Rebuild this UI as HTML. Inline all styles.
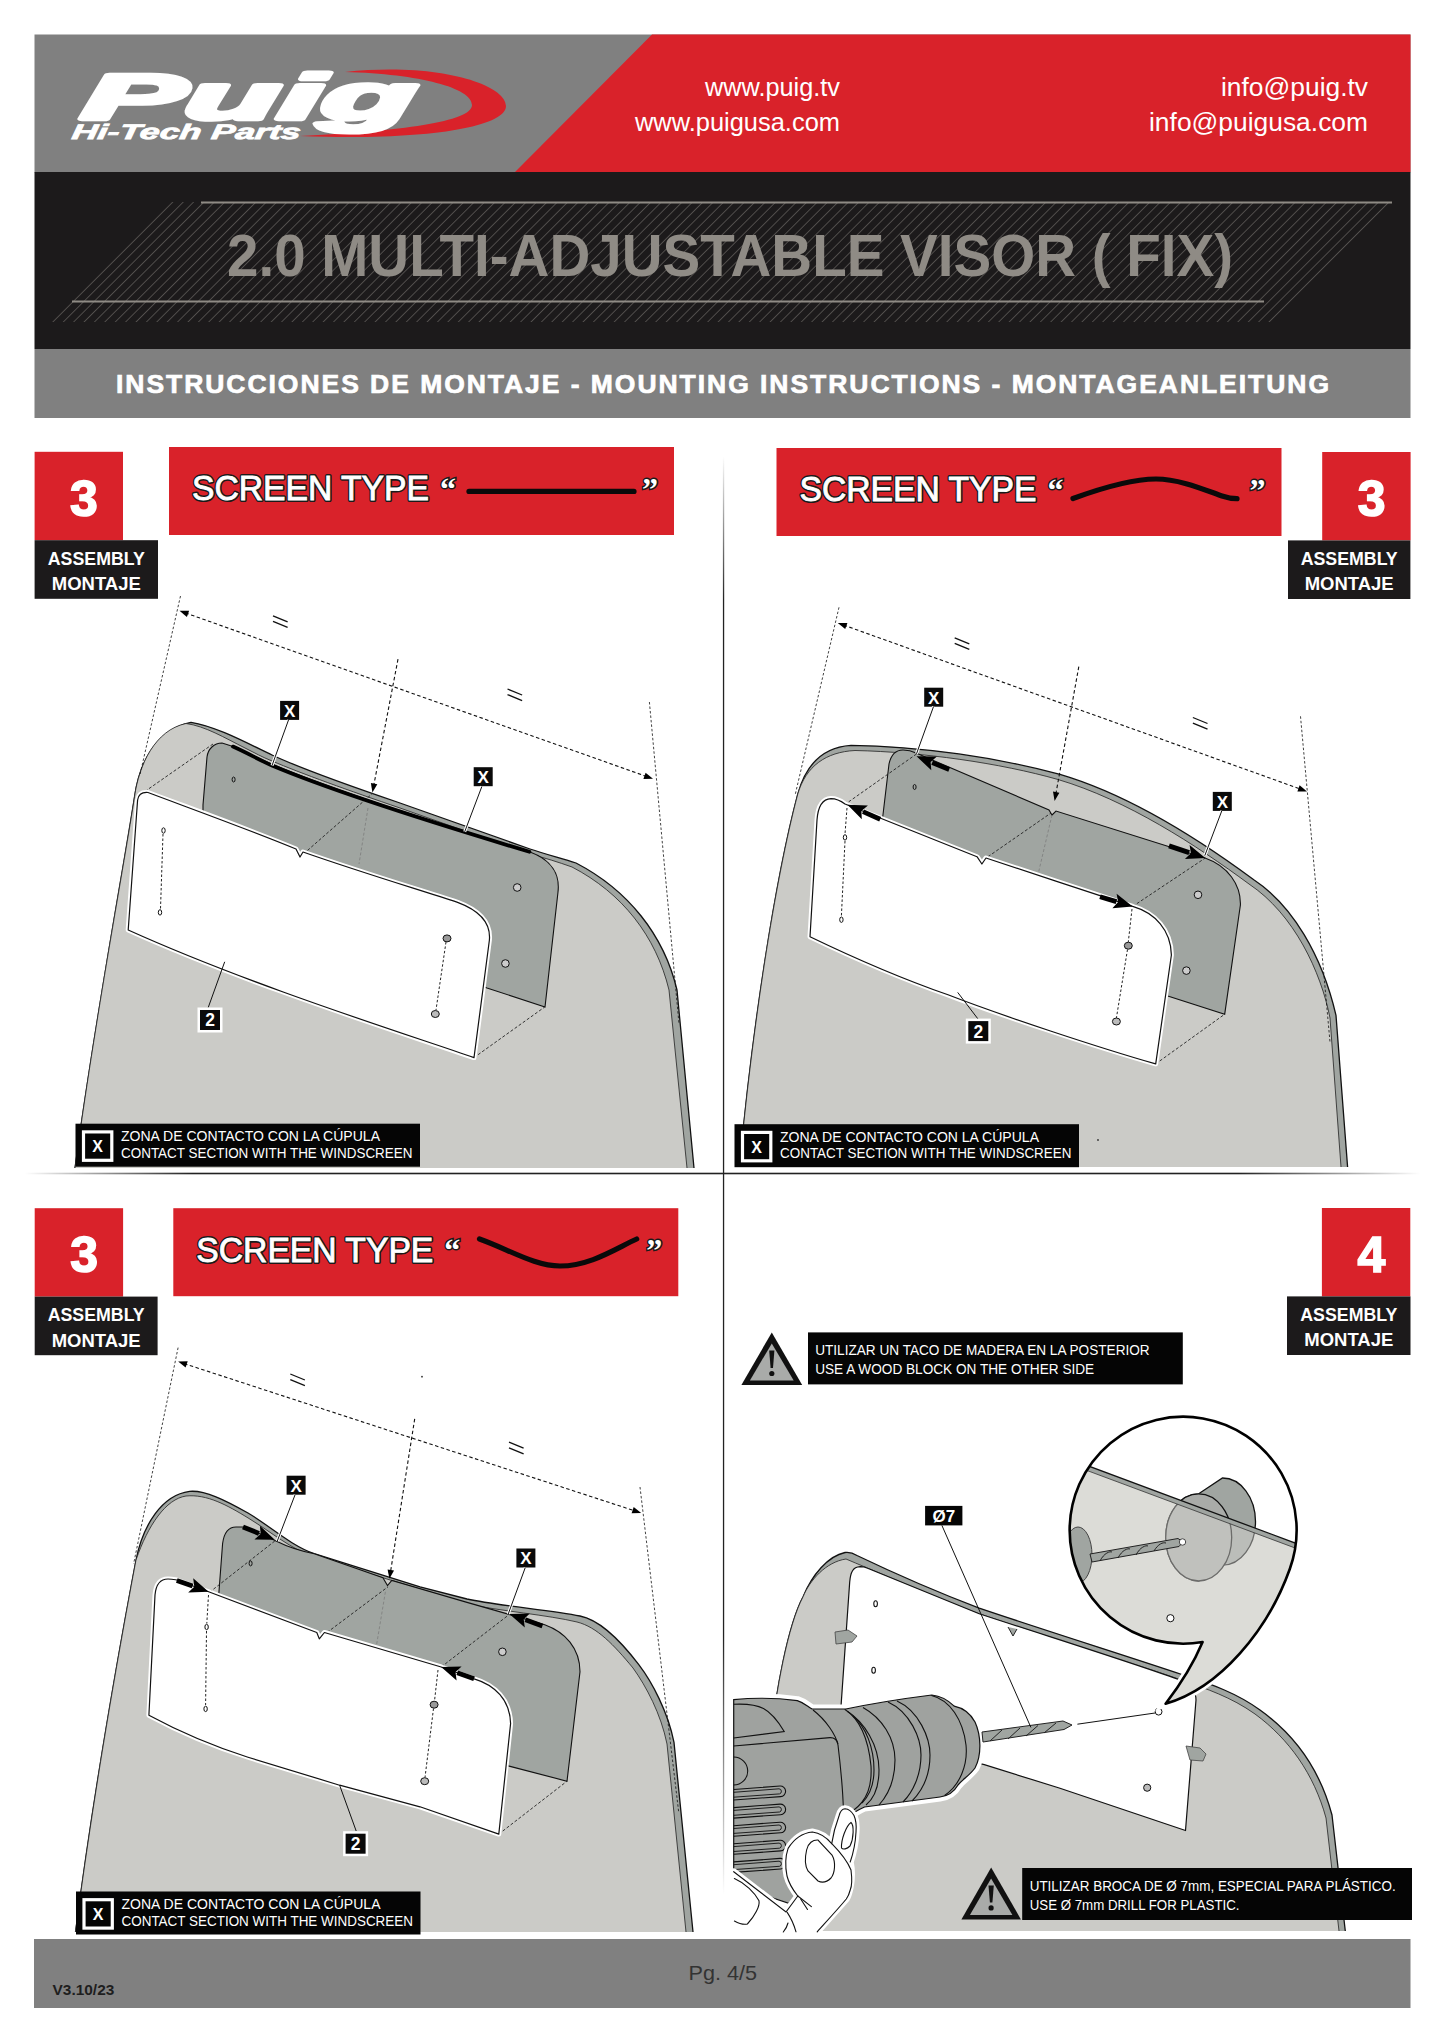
<!DOCTYPE html>
<html><head><meta charset="utf-8">
<style>
html,body{margin:0;padding:0;background:#fff;}
body{width:1445px;height:2044px;overflow:hidden;position:relative;font-family:"Liberation Sans",sans-serif;}
svg{position:absolute;left:0;top:0;}
text{font-family:"Liberation Sans",sans-serif;}
text.serif{font-family:"Liberation Serif",serif;}
</style></head>
<body>
<svg width="1445" height="2044" viewBox="0 0 1445 2044">
<defs>
  <pattern id="hatch" patternUnits="userSpaceOnUse" width="7.35" height="7.35" patternTransform="rotate(45)">
    <rect width="7.35" height="7.35" fill="#1c1a1b"/>
    <line x1="0" y1="0" x2="0" y2="7.35" stroke="#6e6b68" stroke-width="1.2"/>
  </pattern>
</defs>

<rect x="34.5" y="34.5" width="1376" height="138" fill="#808080"/>
<polygon points="652,34.5 1410.5,34.5 1410.5,172 515,172" fill="#d9222a"/>
<rect x="34.5" y="172" width="1376" height="177" fill="#1c1a1b"/>
<polygon points="170,202 1392,202 1274,322 51,322" fill="url(#hatch)"/>
<line x1="201" y1="202.5" x2="1392" y2="202.5" stroke="#8f8b85" stroke-width="2"/>
<line x1="72" y1="301.5" x2="1264" y2="301.5" stroke="#8f8b85" stroke-width="2"/>
<text x="227" y="276" font-size="59" font-weight="700" fill="#8f8b85" textLength="1006" lengthAdjust="spacingAndGlyphs">2.0 MULTI-ADJUSTABLE VISOR ( FIX)</text>
<rect x="34.5" y="349" width="1376" height="69" fill="#808080"/>
<text x="116" y="393" font-size="26.5" font-weight="700" fill="#fff" stroke="#fff" stroke-width="0.7" textLength="1213" lengthAdjust="spacing">INSTRUCCIONES DE MONTAJE - MOUNTING INSTRUCTIONS - MONTAGEANLEITUNG</text>
<path d="M345 72 C440 62 506 85 506 106 C506 128 420 141 300 136 C400 131 472 122 472 105 C472 88 420 74 345 72 Z" fill="#d9222a"/>
<text x="0" y="0" font-size="64" font-weight="700" font-style="italic" fill="#fff" stroke="#fff" stroke-width="4.5" stroke-linejoin="round" transform="translate(80 119) skewX(-8)" textLength="333" lengthAdjust="spacingAndGlyphs">Puig</text>
<text x="0" y="0" font-size="21" font-weight="700" font-style="italic" fill="#fff" stroke="#fff" stroke-width="0.8" transform="translate(71 139) skewX(-8)" textLength="229" lengthAdjust="spacingAndGlyphs">Hi-Tech Parts</text>
<text x="840" y="96" font-size="25" fill="#fff" text-anchor="end" textLength="135" lengthAdjust="spacingAndGlyphs">www.puig.tv</text>
<text x="840" y="131" font-size="25" fill="#fff" text-anchor="end" textLength="205" lengthAdjust="spacingAndGlyphs">www.puigusa.com</text>
<text x="1368" y="96" font-size="25" fill="#fff" text-anchor="end" textLength="147" lengthAdjust="spacingAndGlyphs">info@puig.tv</text>
<text x="1368" y="131" font-size="25" fill="#fff" text-anchor="end" textLength="219" lengthAdjust="spacingAndGlyphs">info@puigusa.com</text>
<defs>
<linearGradient id="vg" gradientUnits="userSpaceOnUse" x1="0" y1="456" x2="0" y2="1895">
<stop offset="0" stop-color="#222" stop-opacity="0"/><stop offset="0.1" stop-color="#222" stop-opacity="1"/><stop offset="0.82" stop-color="#222" stop-opacity="1"/><stop offset="1" stop-color="#222" stop-opacity="0"/></linearGradient>
<linearGradient id="hg" gradientUnits="userSpaceOnUse" x1="25" y1="0" x2="1420" y2="0">
<stop offset="0" stop-color="#222" stop-opacity="0"/><stop offset="0.12" stop-color="#222" stop-opacity="1"/><stop offset="0.87" stop-color="#222" stop-opacity="1"/><stop offset="1" stop-color="#222" stop-opacity="0"/></linearGradient>
</defs>
<rect x="722.9" y="456" width="1.3" height="1439" fill="url(#vg)"/>
<rect x="25" y="1172.7" width="1395" height="1.6" fill="url(#hg)"/>
<rect x="34" y="1939" width="1376.5" height="69" fill="#808080"/>
<text x="688.5" y="1980" font-size="21" fill="#333" textLength="68.5" lengthAdjust="spacingAndGlyphs">Pg. 4/5</text>
<text x="52.6" y="1994.5" font-size="14.5" font-weight="700" fill="#1e1e1e" textLength="61.7" lengthAdjust="spacingAndGlyphs">V3.10/23</text>
<g id="q1"><rect x="34.6" y="451.8" width="88.4" height="88.4" fill="#d9222a"/><rect x="34.6" y="540.2" width="123.4" height="58.6" fill="#1c1a1b"/><text x="84.0" y="516.0" font-size="50" font-weight="700" fill="#fff" stroke="#fff" stroke-width="1.6" text-anchor="middle">3</text><text x="96.3" y="565.0" font-size="18" font-weight="700" fill="#fff" text-anchor="middle" textLength="97" lengthAdjust="spacingAndGlyphs">ASSEMBLY</text><text x="96.3" y="590.2" font-size="18" font-weight="700" fill="#fff" text-anchor="middle" textLength="89" lengthAdjust="spacingAndGlyphs">MONTAJE</text><rect x="169" y="447" width="505" height="88" fill="#d9222a"/><text x="192" y="500.3" font-size="35" fill="#1a1a1a" stroke="#1a1a1a" stroke-width="4" stroke-linejoin="round" textLength="237" lengthAdjust="spacingAndGlyphs">SCREEN TYPE</text><text x="192" y="500.3" font-size="35" fill="#fff" stroke="#fff" stroke-width="0.9" textLength="237" lengthAdjust="spacingAndGlyphs">SCREEN TYPE</text><text x="440" y="500" font-size="32" font-weight="700" class="serif" fill="#fff" stroke="#1a1a1a" stroke-width="3" paint-order="stroke">“</text><text x="642" y="500" font-size="32" font-weight="700" class="serif" fill="#fff" stroke="#1a1a1a" stroke-width="3" paint-order="stroke">”</text><path d="M469 491.4 L634 491.4" fill="none" stroke="#0a0a0a" stroke-width="5.2" stroke-linecap="round"/><path d="M75 1168 C95 1020 125 860 134.6 796.3 C139 765 155 730 191 722.3 C215 726 245 742 272 755 C300 768 350 786 400 803 L530 849 C545 854 560 858 576 863 C628 890 664 935 677 990 L694 1168 Z" fill="#a0a5a1" stroke="none"/><path d="M75 1168 C95 1020 125 860 134.6 796.3 C139 765 155 730 191 722.3 C215 726 245 742 272 755 C300 768 350 786 400 803 L530 849 C545 854 560 858 576 863 C628 890 664 935 677 990 L694 1168" fill="none" stroke="#111" stroke-width="1.3"/><path d="M75 1168 C95 1020 125 860 134.6 796.3 C139 765 155 730 186 723.5 C205 726 225 738 245 748 C255 753 262 757 272 761 C300 773 350 791 400 808 L530 854 C545 858 558 862 572 867 C622 893 656 936 669 990 L687 1168 Z" fill="#cbcbc7" stroke="none"/><path d="M75 1168 C95 1020 125 860 134.6 796.3 C139 765 155 730 186 723.5 C205 726 225 738 245 748 C255 753 262 757 272 761 C300 773 350 791 400 808 L530 854 C545 858 558 862 572 867 C622 893 656 936 669 990 L687 1168" fill="none" stroke="#222" stroke-width="0.8"/><path d="M203 805 L207 757 C208 749 214 743 222 743 C240 748 255 757 272 764 C320 785 420 818 530 852 C552 860 560 875 558 892 L545 1007 L487 988 L380 950 L203 870 Z" fill="#a0a5a1" stroke="#111" stroke-width="1.1"/><path d="M213.0 744.0 L147.0 790.0" fill="none" stroke="#222" stroke-width="0.9" stroke-dasharray="3 2"/><path d="M300.0 857.0 L373.0 793.0" fill="none" stroke="#222" stroke-width="0.9" stroke-dasharray="3 2"/><path d="M474.0 1057.6 L544.7 1007.0" fill="none" stroke="#222" stroke-width="0.9" stroke-dasharray="3 2"/><path d="M368.0 808.0 L359.0 864.0" fill="none" stroke="#777" stroke-width="0.7" stroke-dasharray="3 2"/><path d="M128.2 930 L137.6 800 C138.5 794 142 792 148 792.5 C200 812 250 830 296 849 L300 857 L303 852 C360 872 420 890 457.6 902.4 C478 910 491 922 489.4 940 L474 1057.6 C400 1032 250 985 128.2 930 Z" fill="#fff" stroke="#fff" stroke-width="5" stroke-linejoin="round"/><path d="M128.2 930 L137.6 800 C138.5 794 142 792 148 792.5 C200 812 250 830 296 849 L300 857 L303 852 C360 872 420 890 457.6 902.4 C478 910 491 922 489.4 940 L474 1057.6 C400 1032 250 985 128.2 930 Z" fill="#fff" stroke="#111" stroke-width="1.2" stroke-linejoin="round"/><path d="M233 746.6 C245 752 258 759 272 765.6 C330 790 430 822 529.4 851.8" fill="none" stroke="#000" stroke-width="3.8" stroke-linecap="round"/><ellipse cx="163.5" cy="830.5" rx="1.7" ry="2.7" fill="#fff" stroke="#111" stroke-width="1"/><ellipse cx="160" cy="912.4" rx="1.7" ry="2.7" fill="#fff" stroke="#111" stroke-width="1"/><ellipse cx="447" cy="938.4" rx="4" ry="3.5" fill="#999" stroke="#111" stroke-width="1"/><ellipse cx="435.3" cy="1014" rx="4" ry="3.5" fill="#bbb" stroke="#111" stroke-width="1"/><ellipse cx="233.6" cy="779.5" rx="1.5" ry="2.5" fill="none" stroke="#111"/><circle cx="517.2" cy="887.5" r="3.8" fill="#ccc" stroke="#111"/><circle cx="505.4" cy="963.5" r="3.8" fill="#ccc" stroke="#111"/><path d="M163.0 834.0 L160.5 909.0" fill="none" stroke="#222" stroke-width="1" stroke-dasharray="2.5 2"/><path d="M446.0 942.0 L436.0 1010.0" fill="none" stroke="#222" stroke-width="1" stroke-dasharray="2.5 2"/><path d="M185.4 612.9 L647.1 776.7" fill="none" stroke="#111" stroke-width="1.1" stroke-dasharray="3.5 2.5"/><path d="M653.0 778.8 L643.4 778.9 L645.6 772.7 Z" fill="#000"/><path d="M179.5 610.8 L186.9 616.9 L189.1 610.7 Z" fill="#000"/><path d="M398.0 659.2 L373.6 786.2" fill="none" stroke="#111" stroke-width="1.1" stroke-dasharray="3.5 2.5"/><path d="M372.4 792.4 L370.9 782.9 L377.3 784.2 Z" fill="#000"/><path d="M180.5 596.0 L140.0 774.7" fill="none" stroke="#111" stroke-width="0.8" stroke-dasharray="2.5 2"/><path d="M649.4 702.0 L679.0 1024.0" fill="none" stroke="#111" stroke-width="0.8" stroke-dasharray="2.5 2"/><line x1="273.0" y1="615.8" x2="287.6" y2="621.8" stroke="#111" stroke-width="1.3"/><line x1="273.0" y1="621.4" x2="287.6" y2="627.4" stroke="#111" stroke-width="1.3"/><line x1="507.5" y1="689.0" x2="522.1" y2="695.0" stroke="#111" stroke-width="1.3"/><line x1="507.5" y1="694.6" x2="522.1" y2="700.6" stroke="#111" stroke-width="1.3"/><g transform="translate(289.6 710.4)"><rect x="-10.5" y="-10.5" width="21" height="21" fill="#fff"/> <rect x="-9.5" y="-9.5" width="19" height="19" fill="#0a0a0a"/> <text x="0" y="6.3" font-size="17" font-weight="700" fill="#fff" text-anchor="middle">X</text></g><line x1="288.5" y1="720" x2="272" y2="765.6" stroke="#fff" stroke-width="3"/><line x1="288.5" y1="720" x2="272" y2="765.6" stroke="#111" stroke-width="1"/><g transform="translate(483.2 776.7)"><rect x="-10.5" y="-10.5" width="21" height="21" fill="#fff"/> <rect x="-9.5" y="-9.5" width="19" height="19" fill="#0a0a0a"/> <text x="0" y="6.3" font-size="17" font-weight="700" fill="#fff" text-anchor="middle">X</text></g><line x1="481.9" y1="786.4" x2="464.7" y2="831.8" stroke="#fff" stroke-width="3"/><line x1="481.9" y1="786.4" x2="464.7" y2="831.8" stroke="#111" stroke-width="1"/><line x1="208.2" y1="1007.6" x2="224.7" y2="961.8" stroke="#111" stroke-width="1"/><g transform="translate(210 1020)"><rect x="-12.5" y="-12.5" width="25" height="25" fill="#fff"/> <rect x="-10" y="-10" width="20" height="20" fill="#0a0a0a"/> <text x="0" y="6.4" font-size="17.5" font-weight="700" fill="#fff" text-anchor="middle">2</text></g><g transform="translate(75.5 1123.7)"><rect x="0" y="0" width="344.5" height="43" fill="#050505"/> <rect x="8" y="8.2" width="28.3" height="28.4" fill="none" stroke="#fff" stroke-width="3.2"/> <text x="22.2" y="28.4" font-size="16" font-weight="700" fill="#fff" text-anchor="middle">X</text> <text x="45.5" y="17.5" font-size="14.5" fill="#fff" textLength="259" lengthAdjust="spacingAndGlyphs">ZONA DE CONTACTO CON LA CÚPULA</text> <text x="45.5" y="34.1" font-size="14.5" fill="#fff" textLength="291.5" lengthAdjust="spacingAndGlyphs">CONTACT SECTION WITH THE WINDSCREEN</text></g></g><g id="q2"><rect x="776.5" y="448" width="505" height="88" fill="#d9222a"/><text x="799.5" y="501.3" font-size="35" fill="#1a1a1a" stroke="#1a1a1a" stroke-width="4" stroke-linejoin="round" textLength="237" lengthAdjust="spacingAndGlyphs">SCREEN TYPE</text><text x="799.5" y="501.3" font-size="35" fill="#fff" stroke="#fff" stroke-width="0.9" textLength="237" lengthAdjust="spacingAndGlyphs">SCREEN TYPE</text><text x="1047.5" y="501" font-size="32" font-weight="700" class="serif" fill="#fff" stroke="#1a1a1a" stroke-width="3" paint-order="stroke">“</text><text x="1249.5" y="501" font-size="32" font-weight="700" class="serif" fill="#fff" stroke="#1a1a1a" stroke-width="3" paint-order="stroke">”</text><path d="M1073 498.5 C1110 485 1135 479 1156 479 C1180 479 1205 490 1222 496 C1228 498 1233 498.7 1237 498.7" fill="none" stroke="#0a0a0a" stroke-width="5.2" stroke-linecap="round"/><rect x="1322.2" y="452" width="88.4" height="88.4" fill="#d9222a"/><rect x="1288" y="540.4" width="122.4" height="58.6" fill="#1c1a1b"/><text x="1371.6" y="516.2" font-size="50" font-weight="700" fill="#fff" stroke="#fff" stroke-width="1.6" text-anchor="middle">3</text><text x="1349.2" y="565.2" font-size="18" font-weight="700" fill="#fff" text-anchor="middle" textLength="97" lengthAdjust="spacingAndGlyphs">ASSEMBLY</text><text x="1349.2" y="590.4" font-size="18" font-weight="700" fill="#fff" text-anchor="middle" textLength="89" lengthAdjust="spacingAndGlyphs">MONTAJE</text><path d="M739.5 1167 C752 1030 775 880 797.8 794 C806 764 824 747 851 745.3 C920 746 1000 758 1060 774.4 C1130 795 1200 840 1253.8 879.8 C1292 905 1322 955 1336 1015.4 L1347.6 1167 Z" fill="#a0a5a1" stroke="none"/><path d="M739.5 1167 C752 1030 775 880 797.8 794 C806 764 824 747 851 745.3 C920 746 1000 758 1060 774.4 C1130 795 1200 840 1253.8 879.8 C1292 905 1322 955 1336 1015.4 L1347.6 1167" fill="none" stroke="#111" stroke-width="1.3"/><path d="M739.5 1167 C752 1030 775 880 797.8 794 C806 766 826 752 855 750.5 C922 752 1000 763 1058 779.5 C1127 800 1196 845 1249 884 C1294 914 1321 972 1330 1018 L1341 1167 Z" fill="#cbcbc7" stroke="none"/><path d="M739.5 1167 C752 1030 775 880 797.8 794 C806 766 826 752 855 750.5 C922 752 1000 763 1058 779.5 C1127 800 1196 845 1249 884 C1294 914 1321 972 1330 1018 L1341 1167" fill="none" stroke="#222" stroke-width="0.8"/><path d="M882.6 818 L889 764 C891 755 895 750 903 750 C908 750 912 751 916 753 L1049 810 L1052 815 L1056 811 L1205 858 C1228 866 1241 885 1240.4 905 L1224.7 1014.2 L1167.8 996 L1000 900 Z" fill="#a0a5a1" stroke="#111" stroke-width="1.1"/><path d="M916.5 754.0 L846.3 803.5" fill="none" stroke="#222" stroke-width="0.9" stroke-dasharray="3 2"/><path d="M988.0 856.7 L1051.0 813.0" fill="none" stroke="#222" stroke-width="0.9" stroke-dasharray="3 2"/><path d="M1052.0 815.0 L1038.8 871.3" fill="none" stroke="#777" stroke-width="0.7" stroke-dasharray="3 2"/><path d="M1155.7 1063.9 L1224.7 1014.2" fill="none" stroke="#222" stroke-width="0.9" stroke-dasharray="3 2"/><path d="M1132.7 906.4 L1205.3 858.0" fill="none" stroke="#222" stroke-width="0.9" stroke-dasharray="3 2"/><path d="M810 936.7 L817 820 C818 806 822 799 831 798.6 C837 798.6 841 801 845 804 C900 826 950 846 977 856.7 L981.9 864 L986 858 C1030 873 1090 892 1132.7 906.4 C1155 913 1171 930 1171.4 955 L1155.7 1063.9 C1100 1048 1000 1015 948 994.8 C900 978 850 956 810 936.7 Z" fill="#fff" stroke="#fff" stroke-width="5" stroke-linejoin="round"/><path d="M810 936.7 L817 820 C818 806 822 799 831 798.6 C837 798.6 841 801 845 804 C900 826 950 846 977 856.7 L981.9 864 L986 858 C1030 873 1090 892 1132.7 906.4 C1155 913 1171 930 1171.4 955 L1155.7 1063.9 C1100 1048 1000 1015 948 994.8 C900 978 850 956 810 936.7 Z" fill="#fff" stroke="#111" stroke-width="1.2" stroke-linejoin="round"/><ellipse cx="845" cy="837.4" rx="1.7" ry="2.7" fill="#fff" stroke="#111" stroke-width="1"/><ellipse cx="841.4" cy="919.7" rx="1.7" ry="2.7" fill="#fff" stroke="#111" stroke-width="1"/><ellipse cx="1128.3" cy="945.7" rx="4" ry="3.5" fill="#999" stroke="#111" stroke-width="1"/><ellipse cx="1116.4" cy="1021.5" rx="4" ry="3.5" fill="#bbb" stroke="#111" stroke-width="1"/><ellipse cx="914.6" cy="787" rx="1.5" ry="2.5" fill="none" stroke="#111"/><circle cx="1198" cy="894.8" r="3.8" fill="#ccc" stroke="#111"/><circle cx="1186.4" cy="970.6" r="3.8" fill="#ccc" stroke="#111"/><path d="M847.0 808.0 L845.0 834.0" fill="none" stroke="#222" stroke-width="1" stroke-dasharray="2.5 2"/><path d="M845.0 841.0 L841.4 916.0" fill="none" stroke="#222" stroke-width="1" stroke-dasharray="2.5 2"/><path d="M1132.0 909.0 L1128.3 942.0" fill="none" stroke="#222" stroke-width="1" stroke-dasharray="2.5 2"/><path d="M1127.5 949.5 L1116.4 1018.0" fill="none" stroke="#222" stroke-width="1" stroke-dasharray="2.5 2"/><line x1="949.2" y1="769.5" x2="932.2" y2="762.6" stroke="#000" stroke-width="4.8"/><path d="M916.5 756.2 L936.9 756.4 L930.6 761.9 L931.3 770.3 Z" fill="#000"/><line x1="880.2" y1="819.2" x2="863.0" y2="811.6" stroke="#000" stroke-width="4.8"/><path d="M847.5 804.7 L867.9 805.5 L861.4 810.9 L861.8 819.3 Z" fill="#000"/><line x1="1169.0" y1="845.9" x2="1189.2" y2="852.6" stroke="#000" stroke-width="4.8"/><path d="M1205.3 858.0 L1184.9 859.1 L1190.9 853.2 L1189.6 844.9 Z" fill="#000"/><line x1="1100.0" y1="896.7" x2="1116.4" y2="901.6" stroke="#000" stroke-width="4.8"/><path d="M1132.7 906.4 L1112.4 908.2 L1118.1 902.1 L1116.6 893.8 Z" fill="#000"/><path d="M843.7 625.1 L1301.1 789.3" fill="none" stroke="#111" stroke-width="1.1" stroke-dasharray="3.5 2.5"/><path d="M1307.0 791.4 L1297.4 791.4 L1299.6 785.3 Z" fill="#000"/><path d="M837.8 623.0 L845.2 629.1 L847.4 623.0 Z" fill="#000"/><path d="M1078.8 666.6 L1055.7 794.8" fill="none" stroke="#111" stroke-width="1.1" stroke-dasharray="3.5 2.5"/><path d="M1054.6 801.0 L1053.0 791.6 L1059.4 792.7 Z" fill="#000"/><path d="M839.0 607.3 L795.4 793.8" fill="none" stroke="#111" stroke-width="0.8" stroke-dasharray="2.5 2"/><path d="M1300.5 716.3 L1330.0 1042.0" fill="none" stroke="#111" stroke-width="0.8" stroke-dasharray="2.5 2"/><line x1="954.7" y1="637.8" x2="969.3" y2="643.8" stroke="#111" stroke-width="1.3"/><line x1="954.7" y1="643.4" x2="969.3" y2="649.4" stroke="#111" stroke-width="1.3"/><line x1="1192.9" y1="717.5" x2="1207.5" y2="723.5" stroke="#111" stroke-width="1.3"/><line x1="1192.9" y1="723.1" x2="1207.5" y2="729.1" stroke="#111" stroke-width="1.3"/><g transform="translate(933.7 697.2)"><rect x="-10.5" y="-10.5" width="21" height="21" fill="#fff"/> <rect x="-9.5" y="-9.5" width="19" height="19" fill="#0a0a0a"/> <text x="0" y="6.3" font-size="17" font-weight="700" fill="#fff" text-anchor="middle">X</text></g><line x1="933.5" y1="706.6" x2="916.5" y2="753.8" stroke="#fff" stroke-width="3"/><line x1="933.5" y1="706.6" x2="916.5" y2="753.8" stroke="#111" stroke-width="1"/><g transform="translate(1222.3 801.4)"><rect x="-10.5" y="-10.5" width="21" height="21" fill="#fff"/> <rect x="-9.5" y="-9.5" width="19" height="19" fill="#0a0a0a"/> <text x="0" y="6.3" font-size="17" font-weight="700" fill="#fff" text-anchor="middle">X</text></g><line x1="1221.8" y1="810.8" x2="1204.8" y2="855.6" stroke="#fff" stroke-width="3"/><line x1="1221.8" y1="810.8" x2="1204.8" y2="855.6" stroke="#111" stroke-width="1"/><line x1="978" y1="1019" x2="957.7" y2="992.4" stroke="#111" stroke-width="1"/><g transform="translate(978.3 1031.1)"><rect x="-12.5" y="-12.5" width="25" height="25" fill="#fff"/> <rect x="-10" y="-10" width="20" height="20" fill="#0a0a0a"/> <text x="0" y="6.4" font-size="17.5" font-weight="700" fill="#fff" text-anchor="middle">2</text></g><g transform="translate(734.5 1124.2)"><rect x="0" y="0" width="344.5" height="43" fill="#050505"/> <rect x="8" y="8.2" width="28.3" height="28.4" fill="none" stroke="#fff" stroke-width="3.2"/> <text x="22.2" y="28.4" font-size="16" font-weight="700" fill="#fff" text-anchor="middle">X</text> <text x="45.5" y="17.5" font-size="14.5" fill="#fff" textLength="259" lengthAdjust="spacingAndGlyphs">ZONA DE CONTACTO CON LA CÚPULA</text> <text x="45.5" y="34.1" font-size="14.5" fill="#fff" textLength="291.5" lengthAdjust="spacingAndGlyphs">CONTACT SECTION WITH THE WINDSCREEN</text></g><circle cx="1098" cy="1140" r="0.9" fill="#333"/></g><g id="q3"><rect x="34.7" y="1208.2" width="88.4" height="88.4" fill="#d9222a"/><rect x="34.7" y="1296.6" width="122.9" height="58.6" fill="#1c1a1b"/><text x="84.1" y="1272.4" font-size="50" font-weight="700" fill="#fff" stroke="#fff" stroke-width="1.6" text-anchor="middle">3</text><text x="96.2" y="1321.4" font-size="18" font-weight="700" fill="#fff" text-anchor="middle" textLength="97" lengthAdjust="spacingAndGlyphs">ASSEMBLY</text><text x="96.2" y="1346.6" font-size="18" font-weight="700" fill="#fff" text-anchor="middle" textLength="89" lengthAdjust="spacingAndGlyphs">MONTAJE</text><rect x="173.3" y="1208.2" width="505" height="88" fill="#d9222a"/><text x="196.3" y="1261.5" font-size="35" fill="#1a1a1a" stroke="#1a1a1a" stroke-width="4" stroke-linejoin="round" textLength="237" lengthAdjust="spacingAndGlyphs">SCREEN TYPE</text><text x="196.3" y="1261.5" font-size="35" fill="#fff" stroke="#fff" stroke-width="0.9" textLength="237" lengthAdjust="spacingAndGlyphs">SCREEN TYPE</text><text x="444.3" y="1261.2" font-size="32" font-weight="700" class="serif" fill="#fff" stroke="#1a1a1a" stroke-width="3" paint-order="stroke">“</text><text x="646.3" y="1261.2" font-size="32" font-weight="700" class="serif" fill="#fff" stroke="#1a1a1a" stroke-width="3" paint-order="stroke">”</text><path d="M479.5 1239 C510 1250 535 1266 560 1266 C590 1266 615 1249 636.7 1239" fill="none" stroke="#0a0a0a" stroke-width="5.2" stroke-linecap="round"/><path d="M75.5 1932 C94 1790 120 1645 136 1560 C143 1525 162 1495 189.6 1491.4 C205 1490 225 1500 248 1513 C270 1526 290 1545 314.2 1553.7 L420 1586.8 L467 1599 C500 1606 550 1610 580 1616 C600 1620 620 1640 638.8 1664.7 C652 1682 668 1712 674 1742.4 L693 1932 Z" fill="#a0a5a1" stroke="none"/><path d="M75.5 1932 C94 1790 120 1645 136 1560 C143 1525 162 1495 189.6 1491.4 C205 1490 225 1500 248 1513 C270 1526 290 1545 314.2 1553.7 L420 1586.8 L467 1599 C500 1606 550 1610 580 1616 C600 1620 620 1640 638.8 1664.7 C652 1682 668 1712 674 1742.4 L693 1932" fill="none" stroke="#111" stroke-width="1.3"/><path d="M75.5 1932 C94 1790 120 1645 136 1560 C148 1525 166 1499 186 1496 C207 1494 227 1505 249 1518.5 C271 1532 291 1549 314.2 1557 L420 1589 L467 1604 C500 1611 548 1615 577 1622 C597 1627 614 1645 633 1668 C646 1686 661 1714 667 1744 L686 1932 Z" fill="#cbcbc7" stroke="none"/><path d="M75.5 1932 C94 1790 120 1645 136 1560 C148 1525 166 1499 186 1496 C207 1494 227 1505 249 1518.5 C271 1532 291 1549 314.2 1557 L420 1589 L467 1604 C500 1611 548 1615 577 1622 C597 1627 614 1645 633 1668 C646 1686 661 1714 667 1744 L686 1932" fill="none" stroke="#222" stroke-width="0.8"/><path d="M218.8 1594 L222.6 1543.5 C224 1533 228 1527 236 1527 L243 1527 C255 1531 265 1536 276 1541 C290 1548 300 1551 314.2 1553.7 L382.9 1577.8 L387.5 1585.5 L391.8 1580.4 L467 1602.4 L508.2 1614.1 L544.7 1624.7 C565 1632 580 1648 580 1671.8 L567 1781.2 L508.2 1765.9 L400 1700 Z" fill="#a0a5a1" stroke="#111" stroke-width="1.1"/><path d="M274.8 1541.0 L208.6 1593.0" fill="none" stroke="#222" stroke-width="0.9" stroke-dasharray="3 2"/><path d="M327.0 1632.5 L388.0 1586.8" fill="none" stroke="#222" stroke-width="0.9" stroke-dasharray="3 2"/><path d="M385.4 1591.8 L376.5 1645.3" fill="none" stroke="#777" stroke-width="0.7" stroke-dasharray="3 2"/><path d="M498.8 1834.1 L567.0 1781.2" fill="none" stroke="#222" stroke-width="0.9" stroke-dasharray="3 2"/><path d="M441.2 1667.0 L508.2 1615.3" fill="none" stroke="#222" stroke-width="0.9" stroke-dasharray="3 2"/><path d="M148.9 1715.2 L155 1595 C156 1584 160 1579 168 1579 C172 1579 174 1579.5 176.8 1580 L208.6 1591.8 L316.8 1632.5 L319.3 1638.9 L324.4 1632.5 L441.2 1667 L474.1 1678.8 C495 1685 510 1700 510.6 1723.5 L498.8 1834.1 L420 1806.8 L339.6 1785.2 L248 1757.2 C210 1745 180 1732 148.9 1715.2 Z" fill="#fff" stroke="#fff" stroke-width="5" stroke-linejoin="round"/><path d="M148.9 1715.2 L155 1595 C156 1584 160 1579 168 1579 C172 1579 174 1579.5 176.8 1580 L208.6 1591.8 L316.8 1632.5 L319.3 1638.9 L324.4 1632.5 L441.2 1667 L474.1 1678.8 C495 1685 510 1700 510.6 1723.5 L498.8 1834.1 L420 1806.8 L339.6 1785.2 L248 1757.2 C210 1745 180 1732 148.9 1715.2 Z" fill="#fff" stroke="#111" stroke-width="1.2" stroke-linejoin="round"/><ellipse cx="206.6" cy="1627" rx="1.7" ry="2.7" fill="#fff" stroke="#111" stroke-width="1"/><ellipse cx="205.6" cy="1708.9" rx="1.7" ry="2.7" fill="#fff" stroke="#111" stroke-width="1"/><ellipse cx="434.1" cy="1704.7" rx="4" ry="3.5" fill="#999" stroke="#111" stroke-width="1"/><ellipse cx="424.7" cy="1781.2" rx="4" ry="3.5" fill="#bbb" stroke="#111" stroke-width="1"/><ellipse cx="250.6" cy="1563.4" rx="1.5" ry="2.5" fill="none" stroke="#111"/><circle cx="502.4" cy="1651.8" r="3.8" fill="#ccc" stroke="#111"/><path d="M208.5 1595.0 L206.8 1623.5" fill="none" stroke="#222" stroke-width="1" stroke-dasharray="2.5 2"/><path d="M206.5 1631.0 L205.6 1705.0" fill="none" stroke="#222" stroke-width="1" stroke-dasharray="2.5 2"/><path d="M438.0 1670.0 L434.5 1701.0" fill="none" stroke="#222" stroke-width="1" stroke-dasharray="2.5 2"/><path d="M433.5 1708.5 L425.0 1777.5" fill="none" stroke="#222" stroke-width="1" stroke-dasharray="2.5 2"/><line x1="243.0" y1="1527.0" x2="259.0" y2="1533.4" stroke="#000" stroke-width="4.8"/><path d="M274.8 1539.7 L254.4 1539.6 L260.7 1534.1 L259.9 1525.7 Z" fill="#000"/><line x1="176.8" y1="1580.4" x2="192.6" y2="1586.1" stroke="#000" stroke-width="4.8"/><path d="M208.6 1591.8 L188.2 1592.4 L194.3 1586.7 L193.2 1578.3 Z" fill="#000"/><line x1="542.4" y1="1625.9" x2="525.4" y2="1619.8" stroke="#000" stroke-width="4.8"/><path d="M509.4 1614.1 L529.8 1613.4 L523.7 1619.2 L524.8 1627.6 Z" fill="#000"/><line x1="474.1" y1="1678.8" x2="457.2" y2="1672.7" stroke="#000" stroke-width="4.8"/><path d="M441.2 1667.0 L461.6 1666.4 L455.5 1672.1 L456.6 1680.5 Z" fill="#000"/><path d="M184.1 1363.6 L635.2 1511.0" fill="none" stroke="#111" stroke-width="1.1" stroke-dasharray="3.5 2.5"/><path d="M641.2 1513.0 L631.6 1513.3 L633.7 1507.1 Z" fill="#000"/><path d="M178.1 1361.6 L185.6 1367.5 L187.7 1361.3 Z" fill="#000"/><path d="M414.7 1418.9 L390.4 1572.6" fill="none" stroke="#111" stroke-width="1.1" stroke-dasharray="3.5 2.5"/><path d="M389.4 1578.8 L387.6 1569.4 L394.0 1570.4 Z" fill="#000"/><path d="M178.1 1347.6 L133.6 1563.9" fill="none" stroke="#111" stroke-width="0.8" stroke-dasharray="2.5 2"/><path d="M640.0 1487.0 L678.8 1813.0" fill="none" stroke="#111" stroke-width="0.8" stroke-dasharray="2.5 2"/><line x1="290.3" y1="1374.0" x2="304.9" y2="1380.0" stroke="#111" stroke-width="1.3"/><line x1="290.3" y1="1379.6" x2="304.9" y2="1385.6" stroke="#111" stroke-width="1.3"/><line x1="509.0" y1="1442.2" x2="523.6" y2="1448.2" stroke="#111" stroke-width="1.3"/><line x1="509.0" y1="1447.8" x2="523.6" y2="1453.8" stroke="#111" stroke-width="1.3"/><circle cx="422" cy="1376.7" r="0.9" fill="#333"/><g transform="translate(296.1 1485.2)"><rect x="-10.5" y="-10.5" width="21" height="21" fill="#fff"/> <rect x="-9.5" y="-9.5" width="19" height="19" fill="#0a0a0a"/> <text x="0" y="6.3" font-size="17" font-weight="700" fill="#fff" text-anchor="middle">X</text></g><line x1="295.1" y1="1494.7" x2="277.3" y2="1541" stroke="#fff" stroke-width="3"/><line x1="295.1" y1="1494.7" x2="277.3" y2="1541" stroke="#111" stroke-width="1"/><g transform="translate(525.9 1558)"><rect x="-10.5" y="-10.5" width="21" height="21" fill="#fff"/> <rect x="-9.5" y="-9.5" width="19" height="19" fill="#0a0a0a"/> <text x="0" y="6.3" font-size="17" font-weight="700" fill="#fff" text-anchor="middle">X</text></g><line x1="525.2" y1="1567.8" x2="508.2" y2="1614.1" stroke="#fff" stroke-width="3"/><line x1="525.2" y1="1567.8" x2="508.2" y2="1614.1" stroke="#111" stroke-width="1"/><line x1="356.2" y1="1831" x2="339.6" y2="1785.2" stroke="#111" stroke-width="1"/><g transform="translate(355.6 1843.7)"><rect x="-12.5" y="-12.5" width="25" height="25" fill="#fff"/> <rect x="-10" y="-10" width="20" height="20" fill="#0a0a0a"/> <text x="0" y="6.4" font-size="17.5" font-weight="700" fill="#fff" text-anchor="middle">2</text></g><g transform="translate(76 1891.5)"><rect x="0" y="0" width="344.5" height="43" fill="#050505"/> <rect x="8" y="8.2" width="28.3" height="28.4" fill="none" stroke="#fff" stroke-width="3.2"/> <text x="22.2" y="28.4" font-size="16" font-weight="700" fill="#fff" text-anchor="middle">X</text> <text x="45.5" y="17.5" font-size="14.5" fill="#fff" textLength="259" lengthAdjust="spacingAndGlyphs">ZONA DE CONTACTO CON LA CÚPULA</text> <text x="45.5" y="34.1" font-size="14.5" fill="#fff" textLength="291.5" lengthAdjust="spacingAndGlyphs">CONTACT SECTION WITH THE WINDSCREEN</text></g></g><g id="q4"><rect x="1321.9" y="1208" width="88.4" height="88.4" fill="#d9222a"/><rect x="1287" y="1296.4" width="123.5" height="58.6" fill="#1c1a1b"/><text x="1371.3" y="1272.2" font-size="50" font-weight="700" fill="#fff" stroke="#fff" stroke-width="1.6" text-anchor="middle">4</text><text x="1348.8" y="1321.2" font-size="18" font-weight="700" fill="#fff" text-anchor="middle" textLength="97" lengthAdjust="spacingAndGlyphs">ASSEMBLY</text><text x="1348.8" y="1346.4" font-size="18" font-weight="700" fill="#fff" text-anchor="middle" textLength="89" lengthAdjust="spacingAndGlyphs">MONTAJE</text><path d="M741.4 1385 L771.8 1332.4 L802.2 1385 Z" fill="#111"/><path d="M749.9 1380.5 L771.8 1343.4 L793.7 1380.5 Z" fill="#a9aba9"/><path d="M769.2 1350.4 L774.4 1350.4 L773.0 1368.0 L770.6 1368.0 Z" fill="#111"/><circle cx="771.8" cy="1373.5" r="2.6" fill="#111"/><rect x="808" y="1332.4" width="374.8" height="52" fill="#050505"/><text x="815.2" y="1354.8" font-size="14.5" fill="#fff" textLength="334.5" lengthAdjust="spacingAndGlyphs">UTILIZAR UN TACO DE MADERA EN LA POSTERIOR</text><text x="815.2" y="1374.3" font-size="14.5" fill="#fff" textLength="279" lengthAdjust="spacingAndGlyphs">USE A WOOD BLOCK ON THE OTHER SIDE</text><path d="M733 1931 L770 1745 C776 1690 788 1625 803.2 1596.5 C812 1575 828 1556 845 1552.5 C849 1552 853 1553 857 1555.5 C904 1578 950 1597 979.2 1608.1 C1050 1632 1130 1657 1181.9 1674.5 C1210 1684 1235 1692 1260 1710 C1295 1735 1320 1770 1332 1815 L1345.3 1931 Z" fill="#a0a5a1" stroke="none"/><path d="M733 1931 L770 1745 C776 1690 788 1625 803.2 1596.5 C812 1575 828 1556 845 1552.5 C849 1552 853 1553 857 1555.5 C904 1578 950 1597 979.2 1608.1 C1050 1632 1130 1657 1181.9 1674.5 C1210 1684 1235 1692 1260 1710 C1295 1735 1320 1770 1332 1815 L1345.3 1931" fill="none" stroke="#111" stroke-width="1.3"/><path d="M733 1931 L770 1745 C776 1690 788 1625 803.2 1596.5 C810 1580 826 1562 846 1559 C898 1581 948 1602 977 1613 C1048 1637 1128 1662 1180 1679.5 C1207 1689 1231 1697 1255 1714 C1289 1739 1314 1774 1326 1818 L1339 1931 Z" fill="#cbcbc7" stroke="none"/><path d="M733 1931 L770 1745 C776 1690 788 1625 803.2 1596.5 C810 1580 826 1562 846 1559 C898 1581 948 1602 977 1613 C1048 1637 1128 1662 1180 1679.5 C1207 1689 1231 1697 1255 1714 C1289 1739 1314 1774 1326 1818 L1339 1931" fill="none" stroke="#222" stroke-width="0.8"/><path d="M839.7 1725 L849.7 1582 C850.5 1572 853 1567 860 1566.6 C863 1566.6 865 1567 867 1568 L979.2 1613.7 C1050 1637 1130 1662 1178.5 1679.5 C1190 1684 1196 1690 1196 1700 L1185.5 1830.5 L1060 1788.3 L984.3 1764.6 L900 1745 Z" fill="#fff" stroke="#111" stroke-width="1.2"/><path d="M1008 1627 L1013 1636 L1017 1629" fill="#a0a5a1" stroke="#111" stroke-width="0.9"/><ellipse cx="875.6" cy="1603.8" rx="1.8" ry="3" fill="none" stroke="#111" stroke-width="1.1"/><ellipse cx="873.6" cy="1670.2" rx="1.8" ry="3" fill="none" stroke="#111" stroke-width="1.1"/><circle cx="1147.2" cy="1787.7" r="3.6" fill="#bbb" stroke="#111"/><circle cx="1158.6" cy="1711.7" r="3.4" fill="#fff" stroke="#111"/><path d="M835 1632 L848 1630 L857 1636 L852 1642 L836 1644 Z" fill="#a0a5a1" stroke="#444" stroke-width="0.8"/><path d="M1186 1746 L1200 1748 L1206 1754 L1203 1761 L1190 1760 Z" fill="#a0a5a1" stroke="#444" stroke-width="0.8"/><line x1="1077.4" y1="1724.2" x2="1155" y2="1713" stroke="#111" stroke-width="1"/><defs><clipPath id="bclip"><path d="M1202.6 1642 C1195 1660 1180 1685 1165.6 1703.7 C1220 1688 1268 1630 1289.8 1569 A113.5 113.5 0 1 0 1202.6 1642 Z"/></clipPath></defs><path d="M1202.6 1642 C1195 1660 1180 1685 1165.6 1703.7 C1220 1688 1268 1630 1289.8 1569 A113.5 113.5 0 1 0 1202.6 1642 Z" fill="#fff" stroke="#fff" stroke-width="8"/><g clip-path="url(#bclip)"><rect x="1060" y="1400" width="260" height="320" fill="#fff"/><path d="M1040 1452 L1330 1560 L1330 1720 L1040 1720 Z" fill="#dcdcd8"/><path d="M1198.7 1493.8 L1222.5 1478 A33 43.6 0 0 1 1222.5 1565.2 L1198.7 1581 A33 43.6 0 0 1 1198.7 1493.8 Z" fill="#a0a5a1" stroke="#111" stroke-width="1.3"/><ellipse cx="1198.7" cy="1537.4" rx="33" ry="43.6" fill="#a9aba8" stroke="#111" stroke-width="1.3"/><path d="M1040 1452 L1330 1560 L1330 1720 L1040 1720 Z" fill="#dcdcd8" fill-opacity="0.45"/><path d="M1040 1448 L1330 1556 L1330 1561 L1040 1453 Z" fill="#a0a5a1"/><path d="M1040 1448 L1330 1556" stroke="#111" stroke-width="1.3" fill="none"/><path d="M1040 1453 L1330 1561" stroke="#333" stroke-width="0.8" fill="none"/><ellipse cx="1078" cy="1555" rx="14" ry="28" fill="#a0a5a1" stroke="#444" stroke-width="1"/><path d="M1090 1554 L1178 1538.5 L1183 1542 L1179 1546.5 L1092 1562 Z" fill="#a0a5a1" stroke="#222" stroke-width="1"/><path d="M1100 1561 C1104 1553 1110 1551 1112 1552 M1118 1558 C1122 1550 1128 1548 1130 1549 M1136 1555 C1140 1547 1146 1545 1148 1546 M1154 1551 C1158 1544 1163 1542 1166 1543" stroke="#222" stroke-width="1" fill="none"/><circle cx="1182.5" cy="1542" r="3.2" fill="#fff" stroke="#222" stroke-width="0.8"/><circle cx="1170.4" cy="1618.2" r="3.6" fill="#fff" stroke="#111" stroke-width="1"/></g><path d="M1202.6 1642 C1195 1660 1180 1685 1165.6 1703.7 C1220 1688 1268 1630 1289.8 1569 A113.5 113.5 0 1 0 1202.6 1642 Z" fill="none" stroke="#000" stroke-width="2.6" stroke-linejoin="round"/><path d="M733.7 1699.6 C750 1698 770 1697 797.3 1700.6 C805 1703 808 1707 812.2 1709 L845.8 1709 C870 1704 900 1699 931.8 1695 C942 1696 950 1702 954.2 1706.2 C963 1708 970 1713 975 1722 C981 1735 982 1755 975 1768 C970 1775 963 1779 958 1785 C954 1792 948 1796 940 1797 L864.5 1807 C858 1810 853 1813 851.5 1815 L834.6 1838.8 L791.7 1904.2 L733.7 1885 Z" fill="#fff" stroke="#fff" stroke-width="9" stroke-linejoin="round"/><path d="M733.7 1699.6 C750 1698 770 1697 797.3 1700.6 C805 1703 808 1707 812.2 1709 L845.8 1709 C870 1704 900 1699 931.8 1695 C942 1696 950 1702 954.2 1706.2 C963 1708 970 1713 975 1722 C981 1735 982 1755 975 1768 C970 1775 963 1779 958 1785 C954 1792 948 1796 940 1797 L864.5 1807 C858 1810 853 1813 851.5 1815 L834.6 1838.8 L791.7 1904.2 L733.7 1885 Z" fill="#9fa29f" stroke="#111" stroke-width="1.2"/><g fill="none" stroke="#111" stroke-width="1.1"><path d="M813 1710 C826 1720 836 1735 838 1745 C841 1770 843 1795 843.4 1810"/><path d="M733.7 1746 L830 1737.6 C834 1737.5 837 1740 838 1744"/><path d="M844.7 1709.3 C858 1718 868 1735 871 1766 C872 1785 868 1800 852.6 1811"/><path d="M847.3 1711.3 C864 1722 879 1745 879 1770 C879 1790 872 1800 866 1805"/><path d="M853 1716 C866 1727 874 1748 874 1770 C874 1787 868 1797 862 1803"/><path d="M863 1707.4 C882 1718 895 1738 895 1760 C895 1780 888 1795 879 1805"/><path d="M888 1702 C910 1712 921 1738 921 1755 C921 1775 913 1792 903 1802"/><path d="M897 1701 C919 1711 930 1738 930 1755 C930 1775 922 1791 912 1801"/><path d="M931.5 1695.5 C950 1700 963 1720 966 1745 C968 1765 960 1785 944.6 1795.5"/><path d="M733.7 1704.3 C760 1703 770 1708 784.2 1731.5 L733.7 1738"/><path d="M733.7 1757 A14 14 0 0 1 733.7 1785"/></g><path d="M733.7 1789.5 L780 1786.0 A5.3 5.3 0 0 1 780.6 1796.6 L733.7 1800.0" fill="none" stroke="#111" stroke-width="1.1"/><path d="M733.7 1792.3 L779 1788.8 A2.6 2.6 0 0 1 779.5 1793.9 L733.7 1797.2" fill="none" stroke="#111" stroke-width="0.9"/><path d="M733.7 1807.6 L780 1804.1 A5.3 5.3 0 0 1 780.6 1814.7 L733.7 1818.1" fill="none" stroke="#111" stroke-width="1.1"/><path d="M733.7 1810.4 L779 1806.9 A2.6 2.6 0 0 1 779.5 1812.0 L733.7 1815.3" fill="none" stroke="#111" stroke-width="0.9"/><path d="M733.7 1825.7 L780 1822.2 A5.3 5.3 0 0 1 780.6 1832.8 L733.7 1836.2" fill="none" stroke="#111" stroke-width="1.1"/><path d="M733.7 1828.5 L779 1825.0 A2.6 2.6 0 0 1 779.5 1830.1 L733.7 1833.4" fill="none" stroke="#111" stroke-width="0.9"/><path d="M733.7 1843.8 L780 1840.3 A5.3 5.3 0 0 1 780.6 1850.9 L733.7 1854.3" fill="none" stroke="#111" stroke-width="1.1"/><path d="M733.7 1846.6 L779 1843.1 A2.6 2.6 0 0 1 779.5 1848.2 L733.7 1851.5" fill="none" stroke="#111" stroke-width="0.9"/><path d="M733.7 1861.9 L780 1858.4 A5.3 5.3 0 0 1 780.6 1869.0 L733.7 1872.4" fill="none" stroke="#111" stroke-width="1.1"/><path d="M733.7 1864.7 L779 1861.2 A2.6 2.6 0 0 1 779.5 1866.3 L733.7 1869.6" fill="none" stroke="#111" stroke-width="0.9"/><path d="M982 1732 L1063 1721 L1072 1725 L1064 1729.5 L983 1742 Z" fill="#a0a5a1" stroke="#222" stroke-width="1"/><path d="M990 1741 L1002 1730 M1008 1739 L1020 1728 M1026 1736 L1038 1725.5 M1044 1733 L1056 1723" stroke="#222" stroke-width="1"/><path d="M733.7 1871.7 L786 1912 L797.8 1896 C793 1890 789 1884 787 1876 C785 1866 785.5 1856 788.1 1848.4 C794 1839 803 1833 812.4 1832 C820 1833 827 1838 831.7 1843.6 C833 1835 836 1824 839 1816 C840 1812 842 1808.7 845 1808.7 C849 1809 852 1812 854 1815.5 C856 1820 856.5 1826 856 1832 C855.5 1842 853 1854 850.2 1862 C851.5 1868 852 1878 850.2 1887 C849 1893 847.5 1897 846.3 1899 L817.2 1931.8 L733.7 1931.8 Z" fill="#fff" stroke="#fff" stroke-width="7" stroke-linejoin="round"/><path d="M733.7 1871.7 L786 1912 L797.8 1896 C793 1890 789 1884 787 1876 C785 1866 785.5 1856 788.1 1848.4 C794 1839 803 1833 812.4 1832 C820 1833 827 1838 831.7 1843.6 C833 1835 836 1824 839 1816 C840 1812 842 1808.7 845 1808.7 C849 1809 852 1812 854 1815.5 C856 1820 856.5 1826 856 1832 C855.5 1842 853 1854 850.2 1862 C851.5 1868 852 1878 850.2 1887 C849 1893 847.5 1897 846.3 1899 L817.2 1931.8 L733.7 1931.8 Z" fill="#fff" stroke="none"/><g fill="none" stroke="#111" stroke-width="1.1" stroke-linecap="round"><path d="M733.7 1871.7 L786 1912 L797.8 1896"/><path d="M797.8 1896 C793 1890 789 1884 787 1876 C785 1866 785.5 1856 788.1 1848.4 C794 1839 803 1833 812.4 1832 C820 1833 827 1838 831.7 1843.6 C838 1850 846 1858 851 1870 C852 1878 852 1886 850.2 1890 C849 1895 847 1898 846.3 1899 C838 1909 826 1922 817.2 1931.8"/><path d="M831.7 1843.6 C833 1835 836 1824 839 1816 C840 1812 842 1808.7 845 1808.7 C849 1809 852 1812 854 1815.5 C856 1820 856.5 1826 856 1832 C855.5 1842 853 1854 850.2 1862"/><path d="M806.6 1850 C808 1843 813 1839.7 818 1840 L832 1855 C836 1862 835 1873 831 1878 C827 1882 822 1883 818 1881 L808 1871 C805 1866 805 1857 806.6 1850 Z"/><path d="M841.5 1848 C841 1840 846 1826 851 1822.5 C854 1825 854 1838 850 1846 C847 1849 843 1850 841.5 1848 Z"/><path d="M800.7 1899 L807.5 1909.5"/><path d="M797.8 1896 L811.4 1906.6"/><path d="M734.4 1878.5 C745 1883 755 1893 759 1900.8 C760 1906 755 1916 747.4 1924 C743 1925 738 1923 734.4 1921"/><path d="M787.2 1912.4 C791 1918 794 1925 796 1931.8"/><path d="M788 1923 C787 1927 785 1930 783.3 1932"/></g><line x1="941.9" y1="1525.4" x2="1030.9" y2="1727.4" stroke="#111" stroke-width="1"/><rect x="925.1" y="1505.9" width="37.3" height="19.5" fill="#050505"/><text x="943.8" y="1522" font-size="17" font-weight="700" fill="#fff" text-anchor="middle">Ø7</text><path d="M961.4 1919.4 L991.15 1867.4 L1020.9 1919.4 Z" fill="#111"/><path d="M969.9 1914.9 L991.1 1878.4 L1012.4 1914.9 Z" fill="#a9aba9"/><path d="M988.5 1885.4 L993.8 1885.4 L992.4 1902.4 L989.9 1902.4 Z" fill="#111"/><circle cx="991.1" cy="1907.9" r="2.6" fill="#111"/><rect x="1022.2" y="1868" width="389.8" height="52" fill="#050505"/><text x="1029.7" y="1890.8" font-size="14.5" fill="#fff" textLength="366" lengthAdjust="spacingAndGlyphs">UTILIZAR BROCA DE Ø 7mm, ESPECIAL PARA PLÁSTICO.</text><text x="1029.7" y="1909.7" font-size="14.5" fill="#fff" textLength="209.8" lengthAdjust="spacingAndGlyphs">USE Ø 7mm DRILL FOR PLASTIC.</text></g></svg>
</body></html>
